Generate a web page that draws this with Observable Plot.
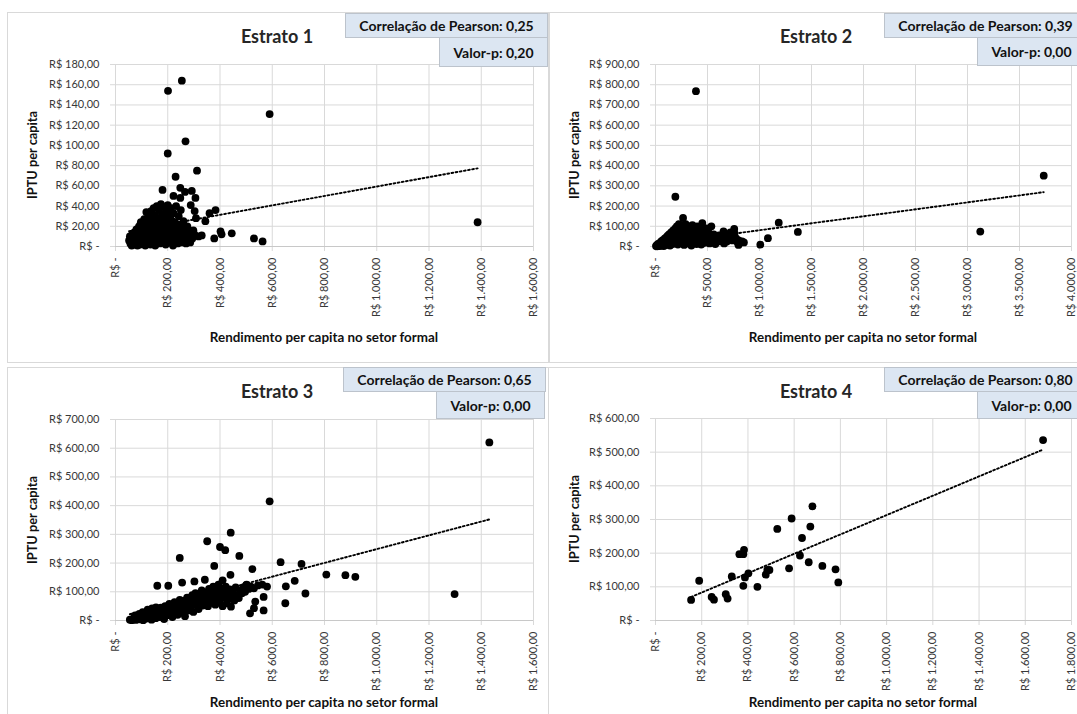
<!DOCTYPE html>
<html><head><meta charset="utf-8">
<script src="https://cdn.jsdelivr.net/npm/d3@7"></script>
<script src="https://cdn.jsdelivr.net/npm/@observablehq/plot@0.6"></script>
<style>
body{margin:0;background:#fff;}
#root{position:relative;width:1077px;height:714px;overflow:hidden;font-family:Lato,"Open Sans",sans-serif;background:#fff}
.panel{position:absolute;border:1px solid #d9d9d9;box-sizing:border-box;background:#fff}
.abs{position:absolute}
.title{font-weight:bold;font-size:18px;color:#262626;transform:translate(-50%,-50%);white-space:nowrap}
.box{position:absolute;background:#dce6f2;border:1px solid #bcc3cc;box-sizing:border-box;font-weight:bold;font-size:14px;color:#111;display:flex;align-items:center;justify-content:center;white-space:nowrap}
.xlab{font-weight:bold;font-size:13.4px;color:#111;transform:translate(-50%,-50%);white-space:nowrap}
.ylab{font-weight:bold;font-size:12.8px;color:#111;transform:translate(-50%,-50%) rotate(-90deg);white-space:nowrap}
svg{position:absolute}
</style></head>
<body><div id="root"></div>
<script>
// ---------- DATA ----------
const titles = ["Estrato 1", "Estrato 2", "Estrato 3", "Estrato 4"];
const pearson = ["0,25", "0,39", "0,65", "0,80"];
const pValues = ["0,20", "0,00", "0,00", "0,00"];
const xLabel = "Rendimento per capita no setor formal";
const yLabel = "IPTU per capita";

const xTicks1 = [0,200,400,600,800,1000,1200,1400,1600];
const yTicks1 = [0,20,40,60,80,100,120,140,160,180];
const xTicks2 = [0,500,1000,1500,2000,2500,3000,3500,4000];
const yTicks2 = [0,100,200,300,400,500,600,700,800,900];
const xTicks3 = [0,200,400,600,800,1000,1200,1400,1600];
const yTicks3 = [0,100,200,300,400,500,600,700];
const xTicks4 = [0,200,400,600,800,1000,1200,1400,1600,1800];
const yTicks4 = [0,100,200,300,400,500,600];

// [rendimento per capita, IPTU per capita]
const estrato1 = [
 [254,164],[201,154],[590,131],[268,104],[200,92],[312,75],[230,69],[180,56],[248,58],[266,54],[292,55],[306,48],[248,48],[222,50],[288,41],[303,35],[308,28],[344,25],[360,33],[383,36],[330,11],[378,8],[402,15],[406,12],[445,13],[530,8],[563,5],[1386,24],[118,34],[97,24],[260,25],
 [52,6],[55,10],[57,3],[60,8],[62,1],[64,12],[66,5],[68,9],[70,2],
 [72,14],[74,6],[76,11],[78,3],[80,17],[82,8],[84,1],[86,13],[88,5],[90,20],[92,9],[94,2],[96,15],[98,11],[100,6],
 [102,22],[104,3],[106,16],[108,9],[110,27],[112,13],[114,1],[116,19],[118,7],[120,24],[122,11],[124,4],[126,30],[128,16],[130,8],
 [132,21],[134,2],[136,35],[138,13],[140,27],[142,6],[144,18],[146,38],[148,10],[150,31],[152,1],[154,23],[156,15],[158,40],[160,7],
 [162,28],[164,19],[166,36],[168,11],[170,3],[172,25],[174,42],[176,14],[178,32],[180,6],[182,21],[184,39],[186,10],[188,17],[190,29],
 [192,2],[194,35],[196,13],[198,24],[200,41],[202,8],[204,19],[206,31],[208,4],[210,15],[212,38],[214,26],[216,10],[218,20],[220,1],
 [222,33],[224,12],[226,24],[228,6],[230,17],[232,40],[234,9],[236,22],[238,3],[240,14],[242,30],[244,7],[246,19],[248,11],[250,36],
 [252,4],[254,16],[256,9],[258,22],[260,13],[262,5],[264,18],[266,8],[268,14],[270,3],[272,11],[275,20],[278,7],[280,15],[283,10],[286,4],[290,13],[294,8],[298,16],[302,12],[318,10]
];
const estrato2 = [
 [389,768],[191,246],[3733,350],[3123,74],[1369,72],[1185,118],[1081,41],[1008,9],[265,141],[450,116],[537,100],[654,75],[757,87],[740,30],[832,25],[790,20],
 [5,2],[10,6],[15,1],[20,10],[25,4],[30,14],[35,8],[40,2],[45,18],[50,11],[55,25],[60,5],[65,20],[70,32],[75,13],[80,2],[85,28],[90,40],[95,18],[100,8],
 [105,45],[110,30],[115,52],[120,15],[125,38],[130,60],[135,24],[140,5],[145,48],[150,70],[155,33],[160,58],[165,12],[170,80],[175,42],[180,66],[185,22],[190,90],[195,52],[200,35],
 [205,100],[210,75],[215,10],[220,60],[225,110],[230,40],[235,88],[240,20],[245,70],[250,105],[255,50],[260,30],[265,95],[270,62],[275,8],[280,80],[285,45],[290,110],[295,25],[300,68],
 [305,90],[310,38],[315,15],[320,75],[325,100],[330,55],[335,28],[340,85],[345,5],[350,65],[355,105],[360,42],[365,20],[370,78],[375,95],[380,50],[385,32],[390,70],[395,12],[400,100],
 [405,58],[410,82],[415,35],[420,22],[425,68],[430,92],[435,45],[440,10],[445,75],[450,55],[460,30],[465,80],[470,18],[480,62],[485,40],[490,90],[495,25],[500,52],
 [510,70],[520,15],[530,45],[545,30],[560,60],[575,12],[590,38],[610,55],[625,25],[640,48],[660,15],[680,55],[700,35],[720,70],[735,50],[760,65],[775,40],[800,30],[590,25],[622,50],[686,25],[798,8],[850,20]
];
const estrato3 = [
 [1431,620],[590,415],[1298,92],[441,306],[351,276],[400,256],[420,245],[246,218],[474,225],[378,190],[524,179],[632,203],[712,197],[807,160],[880,158],[918,152],[686,138],[652,119],[727,94],[650,60],[567,82],[567,35],[535,66],[530,43],[515,25],[580,118],[562,125],[440,159],[342,142],[302,136],[255,132],[202,121],[160,121],[500,123],[410,140],
 [75,18],[91,23],[104,29],[123,38],[140,42],[155,46],
 [55,3],[62,1],[68,6],[72,12],[78,2],[83,9],[88,16],[92,4],[97,11],[102,20],[106,1],[110,14],[114,25],[118,7],[122,18],[126,30],[130,10],[134,22],[138,3],[142,35],[146,15],[150,27],[154,8],[158,40],[162,20],[166,32],[170,12],[174,45],[178,26],[182,38],[186,5],[190,50],[194,30],[198,18],[202,42],[206,58],[210,25],[214,36],[218,12],[222,52],[226,64],[230,30],[234,45],[238,20],[242,60],[246,72],[250,40],[254,28],[258,55],[262,68],[266,15],[270,48],[274,80],[278,35],[282,62],[286,75],[290,50],[294,88],[298,30],[302,65],[306,95],[310,55],[314,78],[318,40],[322,90],[326,68],[330,105],[334,52],[338,82],[342,60],[346,98],[350,72],[354,50],[358,110],[362,85],[366,62],[370,95],[374,118],[378,75],[382,55],[386,102],[390,88],[394,125],[398,66],[402,112],[406,95],[410,50],[414,80],[418,105],[422,118],[426,60],[430,92],[434,75],[438,108],[442,48],[446,85],[450,100],[455,70],[460,115],[466,88],[472,78],[478,105],[484,95],[490,115],[496,100],[502,125],[510,110],[518,118],[530,112],[545,122]
];
const estrato4 = [
 [154,61],[189,118],[243,70],[253,62],[304,78],[312,65],[330,131],[363,197],[380,197],[383,210],[380,103],[387,128],[402,140],[441,100],[477,136],[484,150],[493,150],[527,272],[578,155],[589,303],[625,193],[634,245],[663,173],[670,279],[679,339],[722,162],[779,152],[791,113],[1677,536]
];
// dotted linear trend lines (start / end values)
const trend1 = [{x:52, y:15.1}, {x:1386, y:77.3}];
const trend2 = [{x:5, y:11.8}, {x:3733, y:268.7}];
const trend3 = [{x:55, y:21.9}, {x:1431, y:352}];
const trend4 = [{x:154, y:69.9}, {x:1677, y:507.7}];

// ---------- LAYOUT ----------
const br = d3.formatLocale({decimal: ",", thousands: ".", grouping: [3], currency: ["R$ ", ""]});
const money = br.format("$,.2f");
const fmt = v => v === 0 ? "R$ -" : money(v);

const panels = [
 {left:7, top:12, w:542, h:351, px0:115, px1:533, py0:246, py1:64, xTicks:xTicks1, yTicks:yTicks1, data:estrato1, trend:trend1,
  titleX:277, titleY:36, corr:[345,13,203,25], val:[439,37,109,30], xlabY:337, ylabX:32, ylabY:155},
 {left:549, top:12, w:530, h:351, px0:655, px1:1071, py0:246, py1:64, xTicks:xTicks2, yTicks:yTicks2, data:estrato2, trend:trend2,
  titleX:816, titleY:36, corr:[884,13,203,25], val:[977,37,109,29], xlabY:337, ylabX:574, ylabY:155},
 {left:7, top:367, w:542, h:360, px0:115, px1:533, py0:620, py1:419, xTicks:xTicks3, yTicks:yTicks3, data:estrato3, trend:trend3,
  titleX:277, titleY:391, corr:[343,367,203,25], val:[436,391,109,28], xlabY:702, ylabX:32, ylabY:520},
 {left:548, top:367, w:530, h:360, px0:655, px1:1071, py0:620, py1:418, xTicks:xTicks4, yTicks:yTicks4, data:estrato4, trend:trend4,
  titleX:816, titleY:391, corr:[884,367,203,25], val:[977,391,109,28], xlabY:702, ylabX:574, ylabY:519}
];

const root = document.getElementById("root");
function el(cls, css, text) {
  const d = document.createElement("div");
  d.className = cls;
  Object.assign(d.style, css);
  if (text != null) d.textContent = text;
  root.appendChild(d);
  return d;
}

panels.forEach((p) => {
  el("panel", {left: p.left + "px", top: p.top + "px", width: p.w + "px", height: p.h + "px"});
});

panels.forEach((p, i) => {
  const svgH = Math.min(p.h, 714 - p.top);
  const chart = Plot.plot({
    width: p.w, height: svgH,
    marginLeft: p.px0 - p.left, marginRight: p.left + p.w - p.px1,
    marginTop: p.py1 - p.top, marginBottom: p.top + svgH - p.py0,
    style: {fontFamily: "Lato, 'Open Sans', sans-serif", fontSize: "11px", color: "#383838", background: "none", overflow: "visible"},
    x: {domain: [p.xTicks[0], p.xTicks[p.xTicks.length - 1]]},
    y: {domain: [p.yTicks[0], p.yTicks[p.yTicks.length - 1]]},
    marks: [
      Plot.gridX(p.xTicks, {stroke: "#d9d9d9", strokeOpacity: 1}),
      Plot.gridY(p.yTicks, {stroke: "#d9d9d9", strokeOpacity: 1}),
      Plot.axisX(p.xTicks, {tickFormat: fmt, tickRotate: -90, tickSize: 5, tickPadding: 6, stroke: "#d9d9d9", fill: "#383838", label: null}),
      Plot.axisY(p.yTicks, {tickFormat: fmt, tickSize: 5, tickPadding: 11, stroke: "#d9d9d9", fill: "#383838", label: null}),
      Plot.ruleY([0], {stroke: "#c8c8c8"}),
      Plot.line(p.trend, {x: "x", y: "y", stroke: "#000", strokeWidth: 1.9, strokeDasharray: "1.8,2.4"}),
      Plot.dot(p.data, {x: d => d[0], y: d => d[1], r: 3.9, fill: "#000"})
    ]
  });
  chart.style.left = p.left + "px";
  chart.style.top = p.top + "px";
  root.appendChild(chart);

  el("abs title", {left: p.titleX + "px", top: p.titleY + "px"}, titles[i]);
  el("abs xlab", {left: ((p.px0 + p.px1) / 2) + "px", top: p.xlabY + "px"}, xLabel);
  el("abs ylab", {left: p.ylabX + "px", top: p.ylabY + "px"}, yLabel);
  el("box", {left: p.corr[0] + "px", top: p.corr[1] + "px", width: p.corr[2] + "px", height: p.corr[3] + "px"}, "Correlação de Pearson: " + pearson[i]);
  el("box", {left: p.val[0] + "px", top: p.val[1] + "px", width: p.val[2] + "px", height: p.val[3] + "px"}, "Valor-p: " + pValues[i]);
});
</script>
</body></html>
